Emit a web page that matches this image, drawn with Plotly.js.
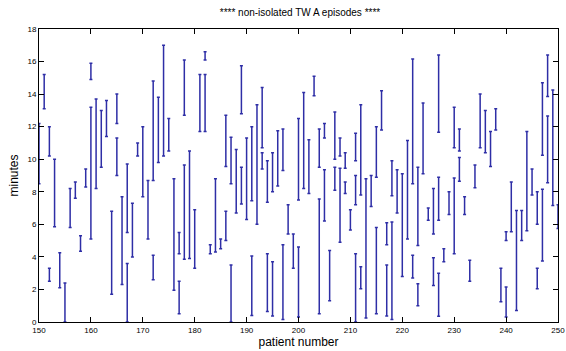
<!DOCTYPE html>
<html>
<head>
<meta charset="utf-8">
<script src="https://cdn.plot.ly/plotly-3.0.1.min.js"></script>
<style>html,body{margin:0;padding:0;background:#fff;}#chart{width:566px;height:351px;}</style>
</head>
<body>
<div id="chart"></div>
<script>
// Episode start/end (minutes) per patient number
const patient = [150,151,152,152,153,154,155,156,157,158,159,160,160,161,162,163,164,165,165,166,167,167,168,169,170,171,172,172,173,174,175,176,177,177,178,178,179,180,181,182,182,183,184,185,186,186,187,187,188,189,189,190,191,191,192,193,193,194,194,195,195,196,197,197,198,199,200,200,201,202,203,204,204,205,205,206,207,207,208,208,209,209,210,211,211,211,212,212,213,214,215,215,216,217,217,218,218,219,220,221,222,222,223,223,224,225,226,226,227,227,227,228,229,230,230,231,231,232,233,234,235,236,237,238,239,240,240,241,242,243,244,245,246,246,247,247,248,248,249,250];
const startMin = [8.5,13.1,10.2,2.5,5.85,2.1,0,5.8,7.6,4.35,8.3,14.9,5.1,8.2,9.5,11.4,1.7,12.2,9.0,2.3,5.5,0,4.0,10.2,7.7,5.1,8.7,2.6,9.8,10.2,10.5,1.95,4.2,0.5,12.7,3.85,3.9,3.3,11.7,16.1,11.7,4.2,4.3,4.5,9.55,5.0,8.5,0,6.7,12.8,7.25,6.3,0.4,7.45,6.0,10.7,9.4,7.35,0.65,8.0,0.37,8.35,9.3,0.16,5.4,3.3,7.5,0.3,8.2,7.9,13.9,9.5,0.5,11.3,6.2,1.3,10.0,8.1,10.2,4.9,9.45,7.9,5.65,9.9,7.2,0,7.8,2.05,0.25,7.1,8.9,0.5,11.8,4.75,0.37,7.75,0.16,6.7,2.8,5.1,8.5,2.7,4.7,1.0,9.1,6.25,5.4,2.25,11.65,6.25,0.35,3.7,6.6,10.7,4.2,10.5,8.65,6.6,2.5,8.25,10.7,10.4,9.55,11.8,1.25,5.0,0.3,5.55,0.7,5.0,5.6,7.8,6.0,2.05,10.25,3.75,13.85,8.55,7.15,5.75];
const endMin = [12.2,15.2,12.0,3.3,10.0,4.25,2.4,8.2,8.6,5.3,9.4,15.9,13.2,13.7,13.0,13.6,6.8,14.0,11.3,7.7,9.7,3.6,7.3,11.0,12.0,8.7,14.8,4.1,13.8,17.0,12.5,8.8,5.5,2.5,16.1,9.65,10.5,6.9,15.2,16.6,15.2,4.75,8.8,5.1,12.7,6.8,11.35,3.5,10.6,15.75,9.5,11.3,4.05,12.0,13.35,14.4,10.4,9.9,4.2,10.4,3.7,11.75,11.85,4.75,7.2,5.4,12.5,4.6,14.1,11.2,15.1,11.85,7.55,12.2,9.35,4.4,12.9,9.5,11.3,9.45,10.4,8.6,6.9,11.6,9.0,4.2,13.35,3.4,8.8,9.0,12.0,5.8,14.2,6.1,3.5,9.9,6.15,9.35,9.1,11.15,16.15,4.1,9.5,2.35,13.45,7.0,8.2,3.95,16.4,8.9,3.0,4.5,8.0,13.2,8.85,11.85,10.1,7.7,3.8,9.65,14.0,13.0,11.7,13.1,3.3,5.55,2.15,8.6,6.85,6.85,11.7,9.4,8.0,3.3,14.7,8.15,16.4,12.65,14.25,7.2];
const xTicks = [150,160,170,180,190,200,210,220,230,240,250];
const yTicks = [0,2,4,6,8,10,12,14,16,18];

const mid = startMin.map((s, i) => (s + endMin[i]) / 2);
const half = startMin.map((s, i) => (endMin[i] - s) / 2);

const trace = {
  type: 'scatter',
  mode: 'markers',
  x: patient,
  y: mid,
  marker: {size: 1, opacity: 0},
  error_y: {type: 'data', symmetric: true, array: half, color: '#2e2ea6', thickness: 1.5, width: 1.5},
  hoverinfo: 'x+y',
  showlegend: false
};

const axisCommon = {
  showgrid: false, zeroline: false, showline: true, mirror: 'ticks',
  linecolor: '#000', linewidth: 1, ticks: 'inside', ticklen: 5, tickcolor: '#000',
  tickfont: {family: 'Liberation Sans, Arial, sans-serif', size: 8, color: '#000'}
};

const layout = {
  width: 566, height: 351,
  margin: {l: 39, r: 8, t: 29, b: 29},
  paper_bgcolor: '#fff', plot_bgcolor: '#fff',
  title: {text: '**** non-isolated TW A episodes ****', x: 0.53, xanchor: 'center', y: 0.975, yanchor: 'top',
          font: {family: 'Liberation Sans, Arial, sans-serif', size: 10, color: '#000'}},
  xaxis: Object.assign({}, axisCommon, {range: [150, 250], tickvals: xTicks, ticktext: xTicks.map(String),
          title: {text: 'patient number', standoff: 2, font: {family: 'Liberation Sans, Arial, sans-serif', size: 12, color: '#000'}}}),
  yaxis: Object.assign({}, axisCommon, {range: [0, 18], tickvals: yTicks, ticktext: yTicks.map(String),
          title: {text: 'minutes', standoff: 6, font: {family: 'Liberation Sans, Arial, sans-serif', size: 12, color: '#000'}}})
};

Plotly.newPlot('chart', [trace], layout, {displayModeBar: false, staticPlot: true});
</script>
</body>
</html>
